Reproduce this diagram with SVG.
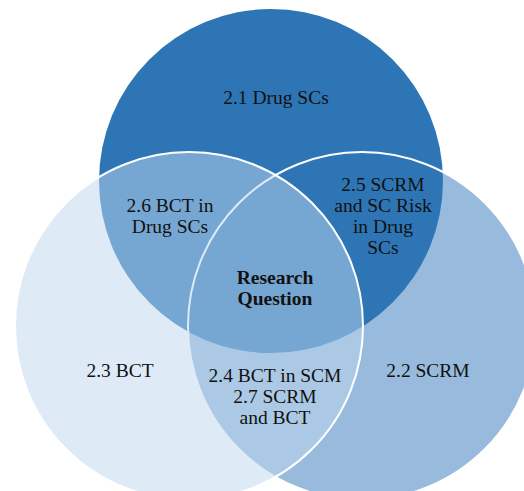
<svg xmlns="http://www.w3.org/2000/svg" width="524" height="491" viewBox="0 0 524 491">
  <style>
    .lbl { font-family: "Liberation Serif", "Times New Roman", serif; font-size: 19.5px; fill: #111; text-anchor: middle; }
    .bold { font-weight: bold; }
    .edge { fill: none; stroke: #ffffff; stroke-width: 2; }
  </style>
  <rect width="524" height="491" fill="#ffffff"/>
  <g id="circle-scrm">
    <circle cx="362" cy="326" r="174" fill="#98BBDD"/>
  </g>
  <g id="circle-drug-scs">
    <circle cx="271" cy="181" r="172" fill="#2E75B6"/>
  </g>
  <g id="circle-scrm-edge">
    <circle class="edge" cx="362" cy="326" r="174"/>
  </g>
  <g id="circle-bct">
    <circle cx="189" cy="326" r="174" fill="#BDD7EE" fill-opacity="0.5"/>
    <circle class="edge" cx="189" cy="326" r="174"/>
  </g>
  <g id="label-drug-scs">
    <text class="lbl" x="276" y="104">2.1 Drug SCs</text>
  </g>
  <g id="label-bct-drug">
    <text class="lbl" x="170" y="212">2.6 BCT in</text>
    <text class="lbl" x="170" y="233">Drug SCs</text>
  </g>
  <g id="label-scrm-drug">
    <text class="lbl" x="383" y="191">2.5 SCRM</text>
    <text class="lbl" x="383" y="212">and SC Risk</text>
    <text class="lbl" x="383" y="233">in Drug</text>
    <text class="lbl" x="383" y="254">SCs</text>
  </g>
  <g id="label-research-question">
    <text class="lbl bold" x="275" y="284">Research</text>
    <text class="lbl bold" x="275" y="305">Question</text>
  </g>
  <g id="label-bct">
    <text class="lbl" x="120" y="377">2.3 BCT</text>
  </g>
  <g id="label-bct-scrm">
    <text class="lbl" x="275" y="382">2.4 BCT in SCM</text>
    <text class="lbl" x="275" y="403">2.7 SCRM</text>
    <text class="lbl" x="275" y="424">and BCT</text>
  </g>
  <g id="label-scrm">
    <text class="lbl" x="428" y="377">2.2 SCRM</text>
  </g>
</svg>
